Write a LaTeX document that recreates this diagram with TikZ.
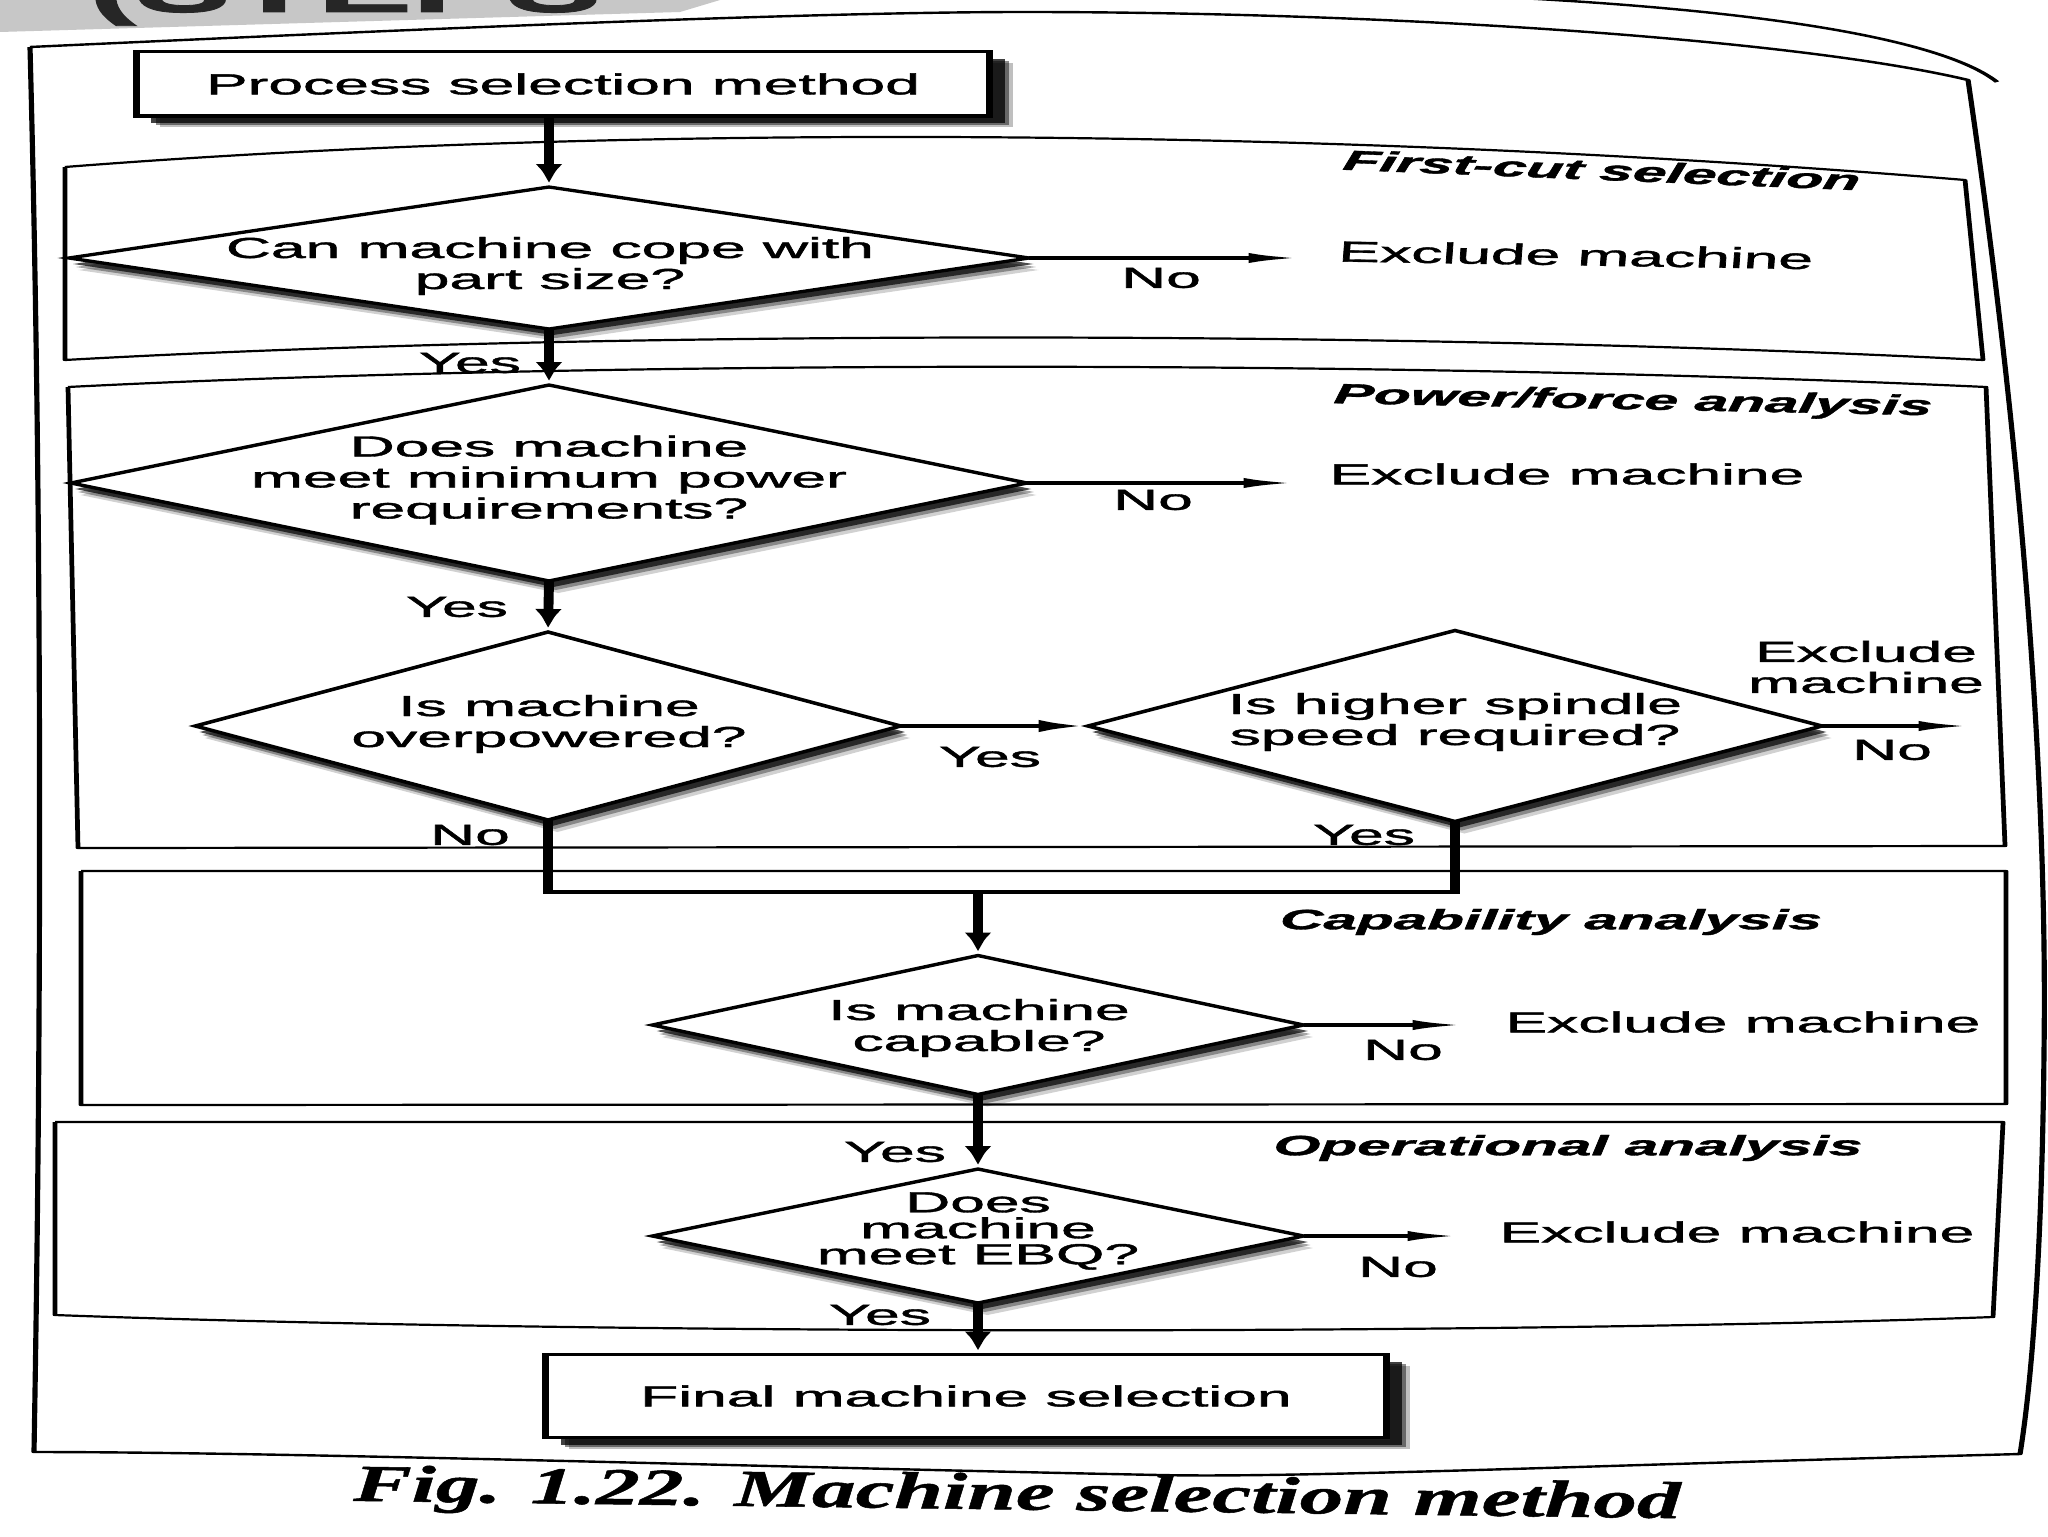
\documentclass[tikz,border=0pt]{standalone}
\usepackage{fontspec}
\setmainfont{Liberation Sans}[FakeBold=1.2]
\newfontfamily\capfont{Liberation Serif}[FakeStretch=1.68,FakeBold=1]
\usetikzlibrary{shapes.geometric,arrows.meta,shadows}
\newcommand\myqf{\fontsize{14.5}{15.5}\selectfont}
\newcommand\mytf{\bfseries\itshape\fontsize{14}{15}\selectfont}
\tikzset{
  sec/.style={line width=1.1pt, line join=round},
  frm/.style={line width=1.2pt, line join=round},
  dsh/.style={drop shadow={shadow xshift=2.2pt,shadow yshift=-6pt,fill=black,opacity=0.18},
              drop shadow={shadow xshift=1.6pt,shadow yshift=-4.5pt,fill=black,opacity=0.35},
              drop shadow={shadow xshift=1pt,shadow yshift=-3pt,fill=black,opacity=0.7}},
  dia/.style={diamond, draw, line width=1.6pt, fill=white, inner sep=0pt, outer sep=0pt, dsh},
  bsh/.style={drop shadow={shadow xshift=5.5pt,shadow yshift=-5.5pt,fill=black,opacity=0.25},
              drop shadow={shadow xshift=4.5pt,shadow yshift=-4.5pt,fill=black,opacity=0.45},
              drop shadow={shadow xshift=3.5pt,shadow yshift=-3.5pt,fill=black,opacity=0.75}},
  boxn/.style={draw, line width=1.5pt, fill=white, inner sep=0pt, outer sep=0pt, font=\myqf, bsh},
  qt/.style={align=center, font=\myqf, inner sep=0pt},
  lbl/.style={font=\myqf, inner sep=0pt, align=center},
  ttl/.style={font=\mytf, inner sep=0pt},
  conn/.style={line width=2.3pt},
  arr/.style={line width=2.3pt, -{Latex[length=11.5pt,width=6pt]}},
  noarr/.style={line width=1.7pt, -{Latex[length=11.5pt,width=5pt]}},
}
\begin{document}
\begin{tikzpicture}[x=0.5pt,y=-0.5pt]
\useasboundingbox (0,0) rectangle (2048,1536);
\fill[white] (0,0) rectangle (2048,1536);
\node[font=\capfont\bfseries\itshape\fontsize{26}{30}\selectfont, inner sep=0pt, rotate=-0.75] (cap) at (1017,1497) {Fig. 1.22. Machine selection method};
\begin{scope}[transform canvas={xscale=2.15}, x=0.232558pt, y=-0.5pt]
% top-left fragment
\fill[black!22] (0,0) -- (720,0) -- (680,12) -- (0,32) -- cycle;
\node[anchor=base west, inner sep=0pt, font=\bfseries\fontsize{33}{33}\selectfont, text=black!85] (stp) at (88,12) {(STEPS};
% outer frame
\draw[frm] (30,47) .. controls (400,30) and (800,12) .. (1024,12)
  .. controls (1400,12) and (1800,40) .. (1968,80)
  .. controls (2015,400) and (2048,750) .. (2044,1050)
  .. controls (2042,1250) and (2032,1380) .. (2020,1454)
  .. controls (1600,1465) and (1300,1478) .. (1160,1475)
  .. controls (800,1468) and (300,1452) .. (34,1452)
  .. controls (42,1000) and (42,500) .. (30,47);
\draw[frm] (1500,-3) .. controls (1800,12) and (1950,45) .. (1997,82);
% sections
\draw[sec] (65,167) .. controls (600,125) and (1300,125) .. (1965,180) -- (1983,360)
  .. controls (1400,330) and (600,330) .. (65,360) -- (65,167);
\draw[sec] (68,387) .. controls (600,360) and (1400,360) .. (1986,387) -- (2005,846) -- (78,848) -- (68,387);
\draw[sec] (81,871) -- (2006,871) -- (2006,1104) -- (81,1105) -- (81,871);
\draw[sec] (55,1122) -- (2003,1122) -- (1993,1317) .. controls (1500,1335) and (600,1335) .. (55,1315) -- (55,1122);
% process box
\node[boxn, minimum width=198.4pt, minimum height=32pt] (pbox) at (563,84) {Process selection method};
% first-cut
\node[dia, minimum width=223.3pt, minimum height=71pt] (d1) at (549,258) {};
\node[qt] (d1t) at (550,266) {Can machine cope with\\part size?};
\coordinate (x1) at (1298,258);
\node[lbl, rotate=-2] (e1) at (1576,255) {Exclude machine};
\node[lbl] (n1) at (1161,278) {No};
\node[ttl, rotate=-4.9] (t1) at (1602,170) {First-cut selection};
\node[lbl] (y1) at (470,363) {Yes};
% power
\node[dia, minimum width=222.3pt, minimum height=98pt] (d2) at (549,483) {};
\node[qt] (d2t) at (549,480) {Does machine\\meet minimum power\\requirements?};
\coordinate (x2) at (1293,483);
\node[lbl] (e2) at (1567,474) {Exclude machine};
\node[lbl] (n2) at (1153,500) {No};
\node[ttl, rotate=-2.5] (t2) at (1633,402) {Power/force analysis};
\node[lbl] (y2) at (457,607) {Yes};
\node[dia, minimum width=164pt, minimum height=94pt] (d3) at (548,726) {};
\node[qt] (d3t) at (549,724) {Is machine\\overpowered?};
\node[dia, minimum width=170.7pt, minimum height=95.5pt] (d4) at (1455,726) {};
\node[qt] (d4t) at (1455,722) {Is higher spindle\\speed required?};
\node[lbl] (y3) at (990,757) {Yes};
\node[lbl] (e4) at (1866,667) {Exclude\\machine};
\coordinate (x4) at (1968,726);
\node[lbl] (n4) at (1892,750) {No};
\node[lbl] (n3) at (470,835) {No};
\node[lbl] (y4) at (1364,835) {Yes};
\coordinate (j) at (978,892);
% capability
\node[dia, minimum width=151.4pt, minimum height=69.5pt] (d5) at (978,1025) {};
\node[qt] (d5t) at (979,1028) {Is machine\\capable?};
\coordinate (x5) at (1462,1025);
\node[lbl] (e5) at (1743,1022) {Exclude machine};
\node[lbl] (n5) at (1403,1050) {No};
\node[ttl] (t3) at (1551,922) {Capability analysis};
\node[lbl] (y5) at (895,1152) {Yes};
% operational
\node[dia, minimum width=151.4pt, minimum height=67pt] (d6) at (978,1236) {};
\node[qt, font=\fontsize{14.5}{13}\selectfont] (d6t) at (978,1231) {Does\\machine\\meet EBQ?};
\coordinate (x6) at (1457,1236);
\node[lbl] (e6) at (1737,1232) {Exclude machine};
\node[lbl] (n6) at (1398,1267) {No};
\node[ttl] (t4) at (1568,1148) {Operational analysis};
\node[lbl] (y6) at (880,1315) {Yes};
\node[boxn, minimum width=195.6pt, minimum height=41.5pt] (fbox) at (966,1396) {Final machine selection};
% connectors
\draw[arr] (pbox.south -| d1.north) -- (d1.north);
\draw[arr] (d1.south) -- (d2.north);
\draw[arr] (d2.south) -- (d3.north);
\draw[arr] (d3.east) -- (d4.west);
\draw[conn] (d3.south) |- (j) -| (d4.south);
\draw[arr] (j) -- (d5.north);
\draw[arr] (d5.south) -- (d6.north);
\draw[arr] (d6.south) -- (d6.south |- fbox.north);
\draw[noarr] (d1.east) -- (x1);
\draw[noarr] (d2.east) -- (x2);
\draw[noarr] (d4.east) -- (x4);
\draw[noarr] (d5.east) -- (x5);
\draw[noarr] (d6.east) -- (x6);
\end{scope}
\end{tikzpicture}
\end{document}
